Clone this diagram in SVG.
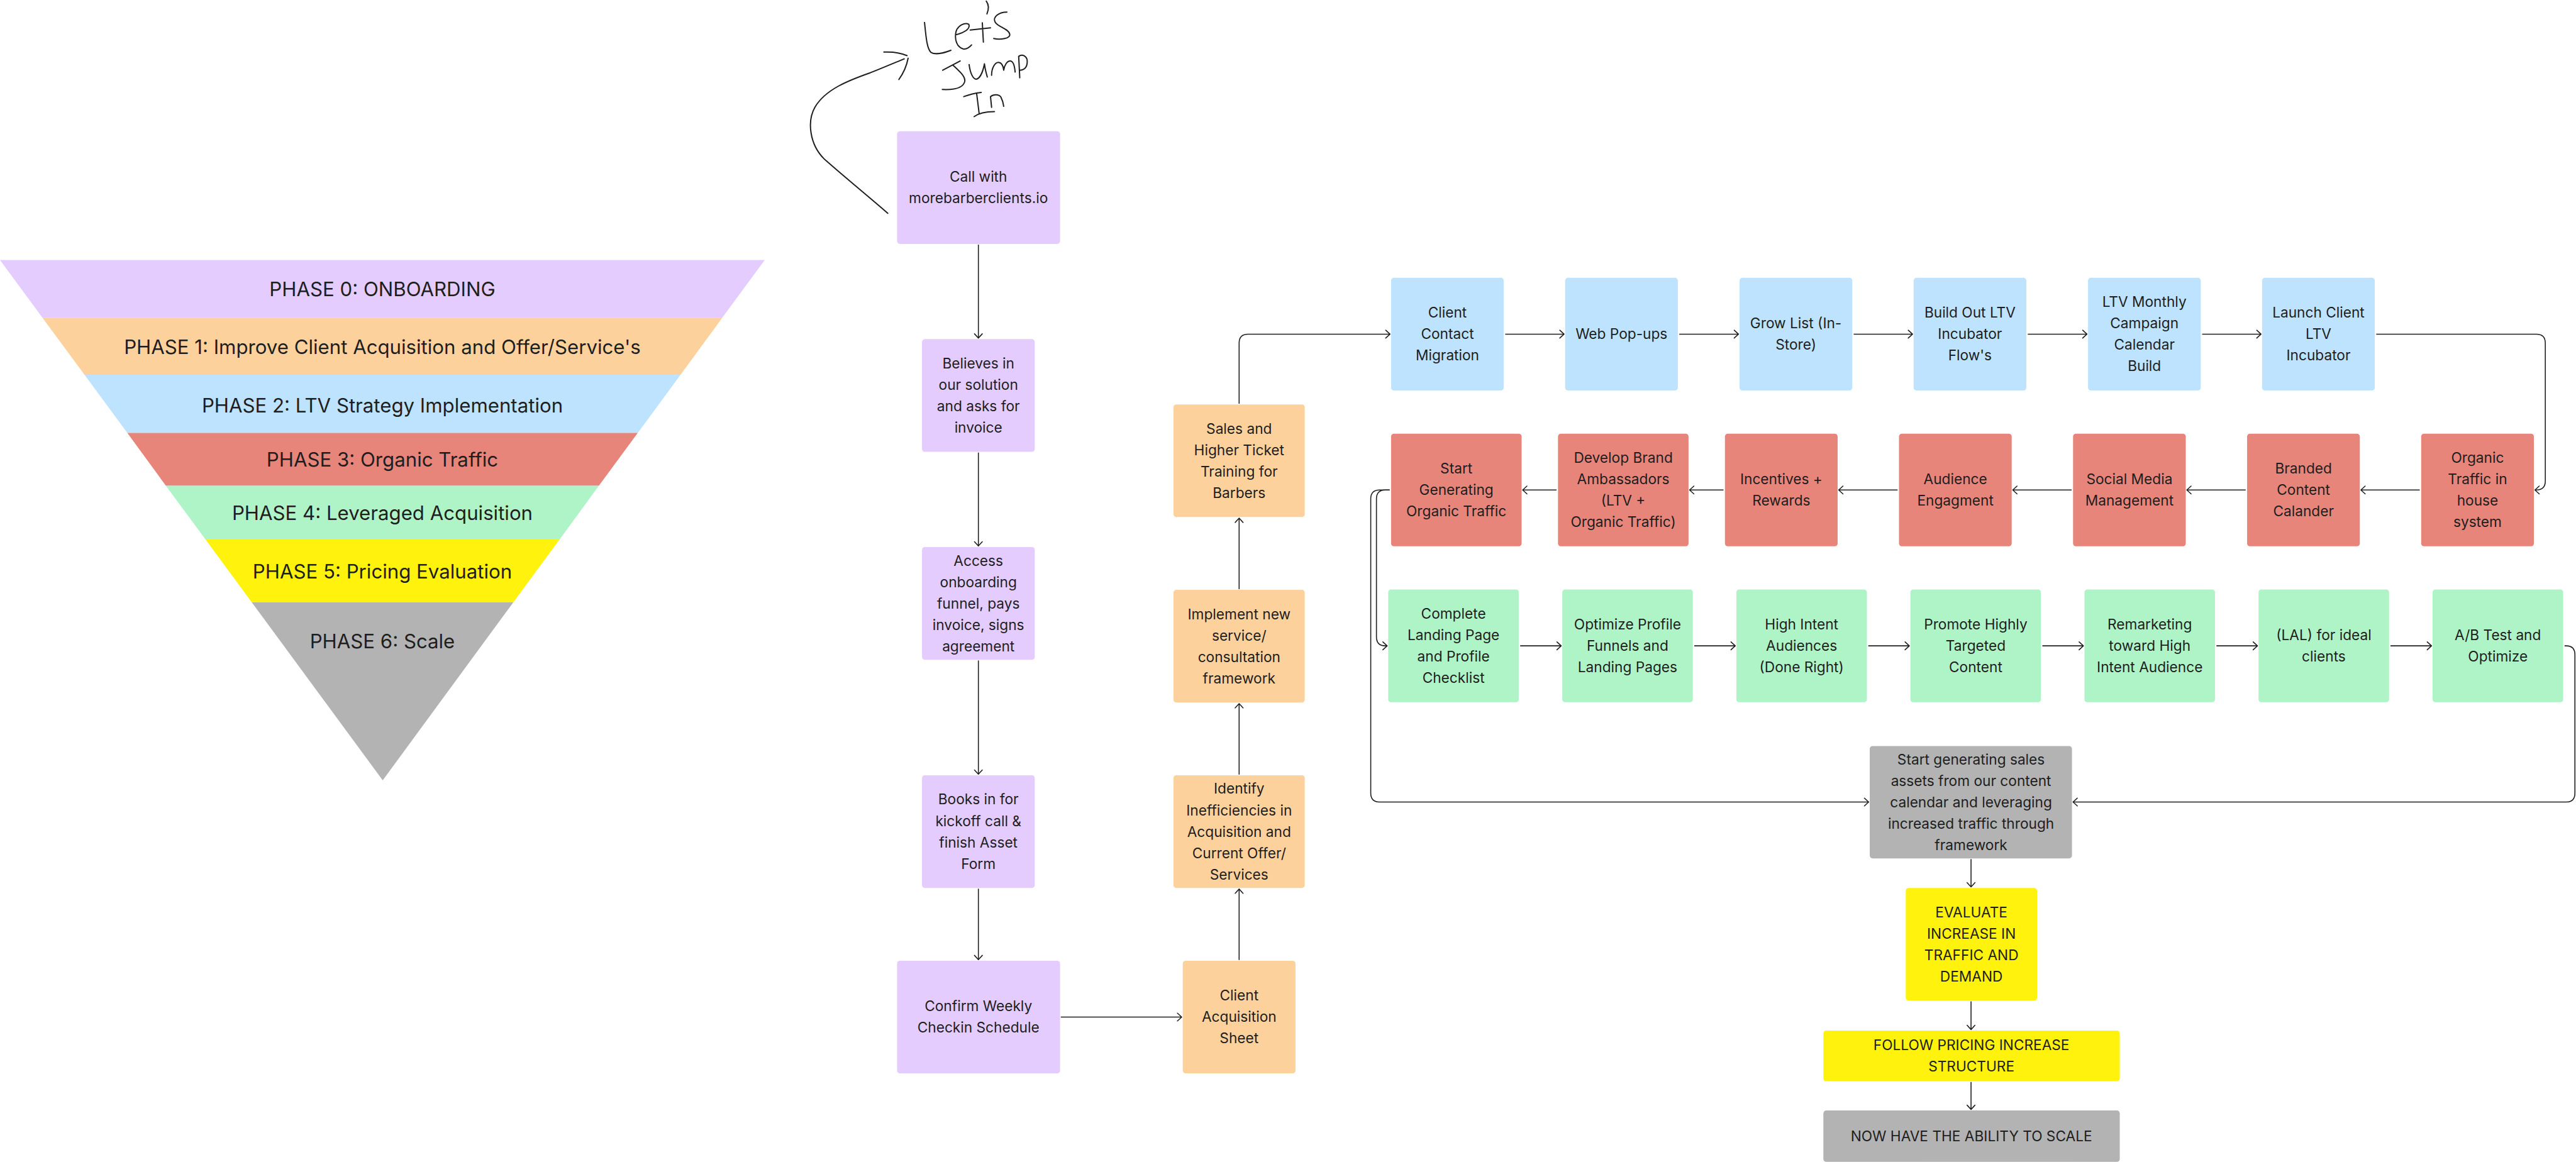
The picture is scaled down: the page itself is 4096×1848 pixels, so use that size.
<svg xmlns="http://www.w3.org/2000/svg" width="4096" height="1848" viewBox="0 0 4096 1848">
<style>
.bg{fill:#ffffff}
.t{font-family:Inter,"Noto Sans","Liberation Sans",sans-serif;font-size:40px;fill:#1e1e1e;text-anchor:middle}
.pt{font-family:Inter,"Noto Sans","Liberation Sans",sans-serif;font-size:55px;fill:#1e1e1e;text-anchor:middle}
.pu{fill:#E4CCFF}.or{fill:#FCD19C}.bl{fill:#BDE3FF}.rd{fill:#E8857A}.gr{fill:#AFF4C6}.ye{fill:#FFF30D}.gy{fill:#B3B3B3}
.c{fill:none;stroke:#1e1e1e;stroke-width:2.8;marker-end:url(#ah)}
.hw{fill:none;stroke:#1e1e1e;stroke-width:3.5;stroke-linecap:round;stroke-linejoin:round}
</style>
<defs>
<marker id="ah" markerUnits="userSpaceOnUse" markerWidth="30" markerHeight="30" refX="0" refY="0" orient="auto" overflow="visible">
<path d="M-12,-11 L0,0 L-12,11" fill="none" stroke="#1e1e1e" stroke-width="2.8" stroke-linecap="round" stroke-linejoin="round"/>
</marker>
</defs>
<rect class="bg" width="4096" height="1848"/>
<g transform="scale(0.56715)">
<g id="pyramid">
<polygon class="pu" points="0,729 2144,729 2025,891 119,891"/>
<polygon class="or" points="119,891 2025,891 1908,1051 237,1051"/>
<polygon class="bl" points="237,1051 1908,1051 1788,1214 357,1214"/>
<polygon class="rd" points="357,1214 1788,1214 1679,1362 465,1362"/>
<polygon class="gr" points="465,1362 1679,1362 1570,1511 575,1511"/>
<polygon class="ye" points="575,1511 1570,1511 1439,1689 706,1689"/>
<polygon class="gy" points="706,1689 1439,1689 1073,2188"/>
<text class="pt" x="1072" y="831">PHASE 0: ONBOARDING</text>
<text class="pt" x="1072" y="993">PHASE 1: Improve Client Acquisition and Offer/Service's</text>
<text class="pt" x="1072" y="1156">PHASE 2: LTV Strategy Implementation</text>
<text class="pt" x="1072" y="1308">PHASE 3: Organic Traffic</text>
<text class="pt" x="1072" y="1459">PHASE 4: Leveraged Acquisition</text>
<text class="pt" x="1072" y="1623">PHASE 5: Pricing Evaluation</text>
<text class="pt" x="1072" y="1817">PHASE 6: Scale</text>
</g>
<g id="handwriting">
<path class="hw" d="M2489,598 C2440,555 2360,490 2310,445 C2270,405 2262,340 2285,300 C2315,250 2380,225 2440,204 C2480,188 2510,175 2535,165"/>
<path class="hw" d="M2478,146 Q2515,144 2543,156"/>
<path class="hw" d="M2546,163 Q2540,195 2520,223"/>
<path class="hw" d="M2592,63 C2596,100 2598,135 2610,147 C2625,156 2650,147 2666,141"/>
<path class="hw" d="M2682,97 C2700,92 2722,82 2716,68 C2705,62 2684,72 2680,90 C2676,110 2682,132 2700,137 C2710,139 2718,133 2724,126"/>
<path class="hw" d="M2754,64 L2757,118 M2720,84 L2777,78"/>
<path class="hw" d="M2765,3 Q2776,18 2767,39"/>
<path class="hw" d="M2823,34 C2800,34 2782,48 2790,62 C2798,76 2828,80 2831,96 C2833,108 2805,112 2786,108"/>
<path class="hw" d="M2643,197 L2692,171 M2672,183 C2690,200 2712,218 2703,233 C2695,250 2665,252 2642,251"/>
<path class="hw" d="M2717,181 C2720,205 2728,222 2737,222 C2748,220 2756,200 2760,179 C2762,195 2765,205 2768,216"/>
<path class="hw" d="M2780,211 C2780,190 2790,174 2800,175 C2810,176 2813,188 2814,197 C2816,182 2824,170 2833,171 C2842,172 2845,190 2846,202"/>
<path class="hw" d="M2859,218 L2856,158 C2866,150 2880,158 2880,172 C2880,188 2872,196 2860,197"/>
<path class="hw" d="M2702,271 Q2725,262 2751,259 M2738,261 L2745,317 M2731,327 Q2750,313 2788,313"/>
<path class="hw" d="M2780,301 L2777,271 C2785,264 2800,264 2806,272 C2810,280 2813,290 2814,298"/>
</g>
<g id="connectors">
<path class="c" d="M2743,686 V948"/>
<path class="c" d="M2743,1269 V1531"/>
<path class="c" d="M2743,1852 V2171"/>
<path class="c" d="M2743,2492 V2691"/>
<path class="c" d="M2974,2852 H3313"/>
<path class="c" d="M3474,2692 V2493"/>
<path class="c" d="M3474,2172 V1973"/>
<path class="c" d="M3474,1652 V1453"/>
<path class="c" d="M3474,1132 V962 Q3474,937 3499,937 H3897"/>
<path class="c" d="M4220,937 H4385"/>
<path class="c" d="M4708,937 H4874"/>
<path class="c" d="M5197,937 H5362"/>
<path class="c" d="M5685,937 H5851"/>
<path class="c" d="M6174,937 H6339"/>
<path class="c" d="M6662,937 H7111 Q7136,937 7136,962 V1349 Q7136,1374 7111,1374 H7107"/>
<path class="c" d="M6784,1374 H6619"/>
<path class="c" d="M6296,1374 H6131"/>
<path class="c" d="M5808,1374 H5643"/>
<path class="c" d="M5320,1374 H5155"/>
<path class="c" d="M4832,1374 H4737"/>
<path class="c" d="M4364,1374 H4269"/>
<path class="c" d="M3896,1374 H3884 Q3859,1374 3859,1399 V1786 Q3859,1811 3884,1811 H3889"/>
<path class="c" d="M3896,1374 H3868 Q3843,1374 3843,1399 V2224 Q3843,2249 3868,2249 H5239"/>
<path class="c" d="M4262,1811 H4377"/>
<path class="c" d="M4750,1811 H4865"/>
<path class="c" d="M5238,1811 H5353"/>
<path class="c" d="M5726,1811 H5841"/>
<path class="c" d="M6214,1811 H6329"/>
<path class="c" d="M6702,1811 H6817"/>
<path class="c" d="M7190,1811 H7195 Q7219,1811 7219,1836 V2224 Q7219,2249 7195,2249 H5812"/>
<path class="c" d="M5526,2409 V2487"/>
<path class="c" d="M5526,2808 V2887"/>
<path class="c" d="M5526,3034 V3111"/>
</g>
<g id="n-call"><rect class="pu" x="2515" y="368" width="457" height="316" rx="8"/><text class="t"><tspan x="2743" y="510">Call with</tspan><tspan x="2743" y="570">morebarberclients.io</tspan></text></g>
<g id="n-believes"><rect class="pu" x="2585" y="951" width="316" height="316" rx="8"/><text class="t"><tspan x="2743" y="1033">Believes in</tspan><tspan x="2743" y="1093">our solution</tspan><tspan x="2743" y="1153">and asks for</tspan><tspan x="2743" y="1213">invoice</tspan></text></g>
<g id="n-access"><rect class="pu" x="2585" y="1534" width="316" height="316" rx="8"/><text class="t"><tspan x="2743" y="1586">Access</tspan><tspan x="2743" y="1646">onboarding</tspan><tspan x="2743" y="1706">funnel, pays</tspan><tspan x="2743" y="1766">invoice, signs</tspan><tspan x="2743" y="1826">agreement</tspan></text></g>
<g id="n-books"><rect class="pu" x="2585" y="2174" width="316" height="316" rx="8"/><text class="t"><tspan x="2743" y="2256">Books in for</tspan><tspan x="2743" y="2316">kickoff call &amp;</tspan><tspan x="2743" y="2376">finish Asset</tspan><tspan x="2743" y="2436">Form</tspan></text></g>
<g id="n-confirm"><rect class="pu" x="2515" y="2694" width="457" height="316" rx="8"/><text class="t"><tspan x="2743" y="2836">Confirm Weekly</tspan><tspan x="2743" y="2896">Checkin Schedule</tspan></text></g>
<g id="n-cas"><rect class="or" x="3316" y="2694" width="316" height="316" rx="8"/><text class="t"><tspan x="3474" y="2806">Client</tspan><tspan x="3474" y="2866">Acquisition</tspan><tspan x="3474" y="2926">Sheet</tspan></text></g>
<g id="n-identify"><rect class="or" x="3290" y="2174" width="368" height="316" rx="8"/><text class="t"><tspan x="3474" y="2226">Identify</tspan><tspan x="3474" y="2286">Inefficiencies in</tspan><tspan x="3474" y="2346">Acquisition and</tspan><tspan x="3474" y="2406">Current Offer/</tspan><tspan x="3474" y="2466">Services</tspan></text></g>
<g id="n-implement"><rect class="or" x="3290" y="1654" width="368" height="316" rx="8"/><text class="t"><tspan x="3474" y="1736">Implement new</tspan><tspan x="3474" y="1796">service/</tspan><tspan x="3474" y="1856">consultation</tspan><tspan x="3474" y="1916">framework</tspan></text></g>
<g id="n-sales"><rect class="or" x="3290" y="1134" width="368" height="316" rx="8"/><text class="t"><tspan x="3474" y="1216">Sales and</tspan><tspan x="3474" y="1276">Higher Ticket</tspan><tspan x="3474" y="1336">Training for</tspan><tspan x="3474" y="1396">Barbers</tspan></text></g>
<g id="n-ccm"><rect class="bl" x="3900" y="779" width="316" height="316" rx="8"/><text class="t"><tspan x="4058" y="891">Client</tspan><tspan x="4058" y="951">Contact</tspan><tspan x="4058" y="1011">Migration</tspan></text></g>
<g id="n-web"><rect class="bl" x="4388" y="779" width="316" height="316" rx="8"/><text class="t"><tspan x="4546" y="951">Web Pop-ups</tspan></text></g>
<g id="n-grow"><rect class="bl" x="4877" y="779" width="316" height="316" rx="8"/><text class="t"><tspan x="5035" y="921">Grow List (In-</tspan><tspan x="5035" y="981">Store)</tspan></text></g>
<g id="n-build"><rect class="bl" x="5365" y="779" width="316" height="316" rx="8"/><text class="t"><tspan x="5523" y="891">Build Out LTV</tspan><tspan x="5523" y="951">Incubator</tspan><tspan x="5523" y="1011">Flow's</tspan></text></g>
<g id="n-ltvm"><rect class="bl" x="5854" y="779" width="316" height="316" rx="8"/><text class="t"><tspan x="6012" y="861">LTV Monthly</tspan><tspan x="6012" y="921">Campaign</tspan><tspan x="6012" y="981">Calendar</tspan><tspan x="6012" y="1041">Build</tspan></text></g>
<g id="n-launch"><rect class="bl" x="6342" y="779" width="316" height="316" rx="8"/><text class="t"><tspan x="6500" y="891">Launch Client</tspan><tspan x="6500" y="951">LTV</tspan><tspan x="6500" y="1011">Incubator</tspan></text></g>
<g id="n-start"><rect class="rd" x="3900" y="1216" width="366" height="316" rx="8"/><text class="t"><tspan x="4083" y="1328">Start</tspan><tspan x="4083" y="1388">Generating</tspan><tspan x="4083" y="1448">Organic Traffic</tspan></text></g>
<g id="n-develop"><rect class="rd" x="4368" y="1216" width="366" height="316" rx="8"/><text class="t"><tspan x="4551" y="1298">Develop Brand</tspan><tspan x="4551" y="1358">Ambassadors</tspan><tspan x="4551" y="1418">(LTV +</tspan><tspan x="4551" y="1478">Organic Traffic)</tspan></text></g>
<g id="n-incent"><rect class="rd" x="4836" y="1216" width="316" height="316" rx="8"/><text class="t"><tspan x="4994" y="1358">Incentives +</tspan><tspan x="4994" y="1418">Rewards</tspan></text></g>
<g id="n-aud"><rect class="rd" x="5324" y="1216" width="316" height="316" rx="8"/><text class="t"><tspan x="5482" y="1358">Audience</tspan><tspan x="5482" y="1418">Engagment</tspan></text></g>
<g id="n-social"><rect class="rd" x="5812" y="1216" width="316" height="316" rx="8"/><text class="t"><tspan x="5970" y="1358">Social Media</tspan><tspan x="5970" y="1418">Management</tspan></text></g>
<g id="n-branded"><rect class="rd" x="6300" y="1216" width="316" height="316" rx="8"/><text class="t"><tspan x="6458" y="1328">Branded</tspan><tspan x="6458" y="1388">Content</tspan><tspan x="6458" y="1448">Calander</tspan></text></g>
<g id="n-organic"><rect class="rd" x="6788" y="1216" width="316" height="316" rx="8"/><text class="t"><tspan x="6946" y="1298">Organic</tspan><tspan x="6946" y="1358">Traffic in</tspan><tspan x="6946" y="1418">house</tspan><tspan x="6946" y="1478">system</tspan></text></g>
<g id="n-complete"><rect class="gr" x="3892" y="1653" width="366" height="316" rx="8"/><text class="t"><tspan x="4075" y="1735">Complete</tspan><tspan x="4075" y="1795">Landing Page</tspan><tspan x="4075" y="1855">and Profile</tspan><tspan x="4075" y="1915">Checklist</tspan></text></g>
<g id="n-optimize"><rect class="gr" x="4380" y="1653" width="366" height="316" rx="8"/><text class="t"><tspan x="4563" y="1765">Optimize Profile</tspan><tspan x="4563" y="1825">Funnels and</tspan><tspan x="4563" y="1885">Landing Pages</tspan></text></g>
<g id="n-hia"><rect class="gr" x="4868" y="1653" width="366" height="316" rx="8"/><text class="t"><tspan x="5051" y="1765">High Intent</tspan><tspan x="5051" y="1825">Audiences</tspan><tspan x="5051" y="1885">(Done Right)</tspan></text></g>
<g id="n-promote"><rect class="gr" x="5356" y="1653" width="366" height="316" rx="8"/><text class="t"><tspan x="5539" y="1765">Promote Highly</tspan><tspan x="5539" y="1825">Targeted</tspan><tspan x="5539" y="1885">Content</tspan></text></g>
<g id="n-remarket"><rect class="gr" x="5844" y="1653" width="366" height="316" rx="8"/><text class="t"><tspan x="6027" y="1765">Remarketing</tspan><tspan x="6027" y="1825">toward High</tspan><tspan x="6027" y="1885">Intent Audience</tspan></text></g>
<g id="n-lal"><rect class="gr" x="6332" y="1653" width="366" height="316" rx="8"/><text class="t"><tspan x="6515" y="1795">(LAL) for ideal</tspan><tspan x="6515" y="1855">clients</tspan></text></g>
<g id="n-ab"><rect class="gr" x="6820" y="1653" width="366" height="316" rx="8"/><text class="t"><tspan x="7003" y="1795">A/B Test and</tspan><tspan x="7003" y="1855">Optimize</tspan></text></g>
<g id="n-assets"><rect class="gy" x="5242" y="2092" width="567" height="315" rx="8"/><text class="t"><tspan x="5526" y="2144">Start generating sales</tspan><tspan x="5526" y="2204">assets from our content</tspan><tspan x="5526" y="2264">calendar and leveraging</tspan><tspan x="5526" y="2324">increased traffic through</tspan><tspan x="5526" y="2384">framework</tspan></text></g>
<g id="n-evaluate"><rect class="ye" x="5343" y="2490" width="368" height="316" rx="8"/><text class="t"><tspan x="5527" y="2572">EVALUATE</tspan><tspan x="5527" y="2632">INCREASE IN</tspan><tspan x="5527" y="2692">TRAFFIC AND</tspan><tspan x="5527" y="2752">DEMAND</tspan></text></g>
<g id="n-follow"><rect class="ye" x="5112" y="2890" width="831" height="142" rx="8"/><text class="t"><tspan x="5527" y="2945">FOLLOW PRICING INCREASE</tspan><tspan x="5527" y="3005">STRUCTURE</tspan></text></g>
<g id="n-scale"><rect class="gy" x="5112" y="3114" width="831" height="144" rx="8"/><text class="t"><tspan x="5527" y="3200">NOW HAVE THE ABILITY TO SCALE</tspan></text></g>
</g>
</svg>
